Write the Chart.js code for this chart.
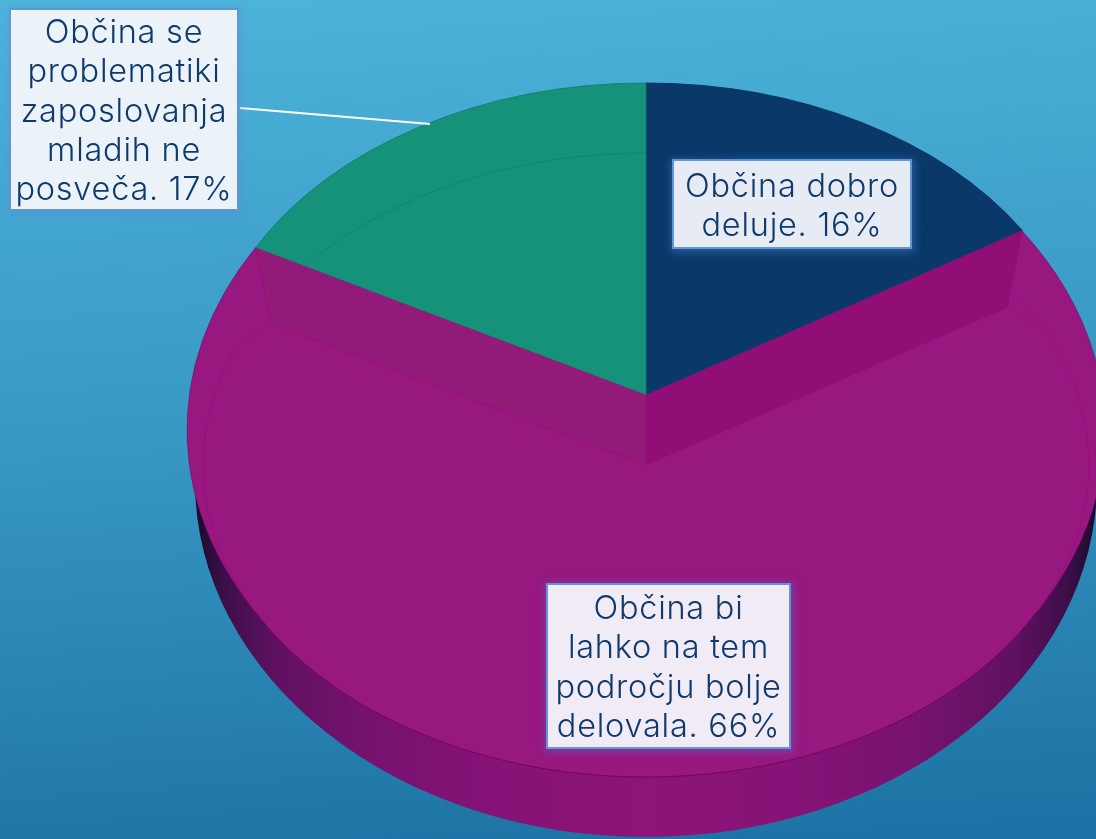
<!DOCTYPE html>
<html><head><meta charset="utf-8">
<style>
html,body{margin:0;padding:0;width:1096px;height:839px;overflow:hidden}
body{position:relative;background:linear-gradient(176deg,#4db4da 0%,#3a9ac6 45%,#1b71a3 100%)}
canvas{position:absolute;left:0;top:0}
.lab{position:absolute;box-sizing:border-box;border:2px solid #5f97d6;text-align:center;color:#0f3a6b;
font-family:Inter,sans-serif;font-weight:300;font-size:32.5px;line-height:39.3px;letter-spacing:.75px;white-space:nowrap}
</style></head><body>
<canvas id="c" width="1096" height="839"></canvas>
<script src="https://cdn.jsdelivr.net/npm/chart.js@4/dist/chart.umd.min.js"></script>
<script>
const categories = ["Občina dobro deluje.", "Občina bi lahko na tem področju bolje delovala.", "Občina se problematiki zaposlovanja mladih ne posveča."];
const values = [16, 66, 17];
const sliceColors = ["#0a3969", "#97187f", "#16927a"];
const edgeColors = ["#08305a", "#97187f", "#127c68"];
const labelLines = [
  ["Občina dobro", "deluje. 16%"],
  ["Občina bi", "lahko na tem", "področju bolje", "delovala. 66%"],
  ["Občina se", "problematiki", "zaposlovanja", "mladih ne", "posveča. 17%"]
];
const labelBoxes = [
  {l:672,t:159,w:240,h:90,bg:"#e7ecf4",pad:5,glow:"rgba(80,140,210,.4)"},
  {l:546,t:583,w:245,h:166,bg:"#f0ebf5",pad:3,glow:"rgba(90,110,210,.4)"},
  {l:9,t:8,w:230,h:203,bg:"#ebf3f9",pad:2,glow:"rgba(95,140,215,.4)"}
];

const R = 443, FLAT = 312/443, LIFT = 70;
const D2 = Math.PI/180;

const pie3d = {
  id:'pie3d',
  beforeDatasetDraw(chart){
    const ctx = chart.ctx, arcs = chart.getDatasetMeta(0).data;
    const [blue, mag, green] = arcs;
    const cx = blue.x, cy = blue.y, faceY = cy + LIFT, ry = R*FLAT;
    const hullY = cy + LIFT/2, hullRx = R+16, hullRy = ry + LIFT/2;
    const pt = (a,y0)=>({x:cx+R*Math.cos(a), y:y0+ry*Math.sin(a)});
    const flat = (fn)=>{ctx.save();ctx.translate(0,cy);ctx.scale(1,FLAT);ctx.translate(0,-cy);fn();ctx.restore();};

    // side wall
    ctx.save();
    ctx.beginPath();ctx.rect(0,hullY,1096,839-hullY);ctx.clip();
    const g = ctx.createLinearGradient(cx-R-8,0,cx+R+8,0);
    g.addColorStop(0,'#190b2a');g.addColorStop(.03,'#3b0e48');g.addColorStop(.09,'#5f1160');
    g.addColorStop(.2,'#771270');g.addColorStop(.34,'#861377');g.addColorStop(.5,'#8d1478');
    g.addColorStop(.66,'#861377');g.addColorStop(.8,'#771270');g.addColorStop(.91,'#5f1160');
    g.addColorStop(.97,'#3b0e48');g.addColorStop(1,'#190b2a');
    ctx.fillStyle=g;
    ctx.beginPath();ctx.ellipse(cx,faceY+17,R+8,355,0,0,Math.PI*2);ctx.fill();
    ctx.restore();

    // upper slices
    flat(()=>{blue.draw(ctx);green.draw(ctx);});
    ctx.strokeStyle='rgba(0,0,0,.1)';ctx.lineWidth=1;
    ctx.beginPath();ctx.ellipse(cx,faceY,R,ry,0,0,Math.PI*2);ctx.stroke();

    // hull of the raised slice
    const cR = pt(mag.startAngle,cy), cL = pt(mag.endAngle,cy);
    const tR = Math.atan2((cR.y-hullY)/hullRy,(cR.x-cx)/hullRx);
    const tL = Math.atan2((cL.y-hullY)/hullRy,(cL.x-cx)/hullRx);
    ctx.fillStyle=sliceColors[1];
    ctx.beginPath();ctx.moveTo(cx,cy);ctx.lineTo(cR.x,cR.y);
    ctx.ellipse(cx,hullY,hullRx,hullRy,0,tR,tL,false);ctx.closePath();ctx.fill();
    ctx.strokeStyle='rgba(110,10,100,.55)';
    ctx.beginPath();ctx.ellipse(cx,hullY,hullRx,hullRy,0,tR,tL,false);ctx.stroke();

    // face of the raised slice, drawn by the library's arc element
    ctx.save();ctx.translate(0,LIFT);flat(()=>mag.draw(ctx));ctx.restore();

    // inner walls
    const inset=.96;
    const fR=pt(mag.startAngle,faceY), fL=pt(mag.endAngle,faceY);
    const iR={x:cx+(fR.x-cx)*inset,y:faceY+(fR.y-faceY)*inset};
    const iL={x:cx+(fL.x-cx)*inset,y:faceY+(fL.y-faceY)*inset};
    ctx.fillStyle='#921a78';
    ctx.beginPath();ctx.moveTo(cL.x,cL.y);ctx.lineTo(cx,cy);ctx.lineTo(cx,faceY);ctx.lineTo(iL.x,iL.y);ctx.closePath();ctx.fill();
    ctx.fillStyle='#900e76';
    ctx.beginPath();ctx.moveTo(cR.x,cR.y);ctx.lineTo(cx,cy);ctx.lineTo(cx,faceY);ctx.lineTo(iR.x,iR.y);ctx.closePath();ctx.fill();
    ctx.strokeStyle='rgba(165,0,125,.5)';
    ctx.beginPath();ctx.moveTo(cL.x,cL.y);ctx.lineTo(iL.x,iL.y);ctx.lineTo(cx,faceY);ctx.lineTo(iR.x,iR.y);ctx.lineTo(cR.x,cR.y);ctx.stroke();

    // face outline
    const a0=mag.startAngle+6*D2, a1=mag.endAngle-6*D2;
    ctx.beginPath();ctx.moveTo(iR.x,iR.y);ctx.ellipse(cx,faceY,R,ry,0,a0,a1,false);ctx.lineTo(iL.x,iL.y);ctx.stroke();
    ctx.strokeStyle='rgba(85,0,75,.45)';
    ctx.beginPath();ctx.ellipse(cx,faceY,R,ry,0,28*D2,152*D2,false);ctx.stroke();

    // leader line
    ctx.strokeStyle='#ffffff';ctx.lineWidth=2;
    ctx.beginPath();ctx.moveTo(240,108);ctx.lineTo(430,124);ctx.stroke();
    return false;
  }
};

new Chart(document.getElementById('c'),{
  type:'pie',
  data:{labels:categories,datasets:[{
    data:values,
    backgroundColor:sliceColors,
    borderColor:edgeColors,
    borderWidth:[1,0,1],
    radius:R
  }]},
  options:{
    responsive:false,animation:false,events:[],
    layout:{padding:{left:196,bottom:49}},
    plugins:{legend:{display:false},tooltip:{enabled:false}}
  },
  plugins:[pie3d]
});

labelLines.forEach((lines,i)=>{
  const b=labelBoxes[i], d=document.createElement('div');
  d.className='lab';
  Object.assign(d.style,{left:b.l+'px',top:b.t+'px',width:b.w+'px',height:b.h+'px',background:b.bg,
    paddingTop:b.pad+'px',boxShadow:'1px 2px 8px 2px '+b.glow});
  lines.forEach(t=>{const s=document.createElement('div');s.textContent=t;d.appendChild(s);});
  document.body.appendChild(d);
});
</script>
</body></html>
